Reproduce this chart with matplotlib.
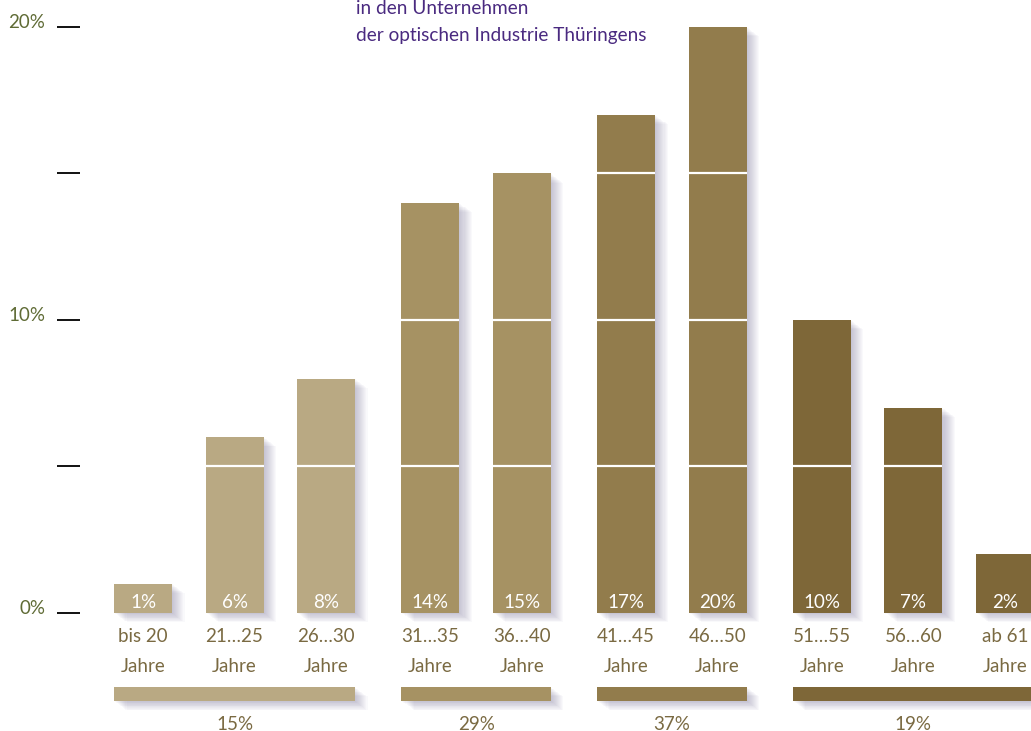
import matplotlib.pyplot as plt
import matplotlib.patheffects as pe
from matplotlib.transforms import ScaledTranslation

# data
age_labels = ["bis 20\nJahre", "21…25\nJahre", "26…30\nJahre",
              "31…35\nJahre", "36…40\nJahre",
              "41…45\nJahre", "46…50\nJahre",
              "51…55\nJahre", "56…60\nJahre", "ab 61\nJahre"]
shares = [1, 6, 8, 14, 15, 17, 20, 10, 7, 2]
group_of = [0, 0, 0, 1, 1, 2, 2, 3, 3, 3]
group_totals = [15, 29, 37, 19]
group_colors = ["#b9a983", "#a69263", "#927c4c", "#7e6738"]

title_lines = ["in den Unternehmen", "der optischen Industrie Thüringens"]

text_color = "#7a6a42"
tick_color = "#5f6b35"
title_color = "#4a2a80"
font = ["Lato", "DejaVu Sans"]

plt.rcParams['font.family'] = font

fig = plt.figure(figsize=(10.31, 7.31), dpi=100)
ax = fig.add_axes([0, 0, 1, 1])
ax.set_xlim(-1.563, 9.705)
ax.set_ylim(-4.03, 20.92)

gap = 0.14
width = 0.634
xs = [i + gap * g for i, g in enumerate(group_of)]


def shadow_effects():
    effs = []
    for d in range(1, 13):
        effs.append(pe.SimplePatchShadow(offset=(d * 0.75, -d * 0.55),
                                         shadow_rgbFace="#6e6890", alpha=0.035))
    effs.append(pe.Normal())
    return effs


bars = ax.bar(xs, shares, width=width,
              color=[group_colors[g] for g in group_of], zorder=3)
for b in bars:
    b.set_path_effects(shadow_effects())

# white division lines inside bars
for x, v in zip(xs, shares):
    for lvl in (5, 10, 15):
        if lvl < v:
            ax.plot([x - width / 2, x + width / 2], [lvl, lvl],
                    color="white", lw=1.6, zorder=4, solid_capstyle="butt")
    ax.text(x, 0.34, f"{v}%", ha="center", va="center", color="white",
            fontsize=13.5, zorder=5)

# category labels below bars
for x, lab in zip(xs, age_labels):
    l1, l2 = lab.split("\n")
    ax.text(x, -0.8, l1, ha="center", va="center", color=text_color, fontsize=13.5)
    ax.text(x, -1.82, l2, ha="center", va="center", color=text_color, fontsize=13.5)

# group summary bars
for g, tot in enumerate(group_totals):
    gx = [x for x, gg in zip(xs, group_of) if gg == g]
    left = min(gx) - width / 2
    right = max(gx) + width / 2
    gb = ax.barh(-2.77, right - left, left=left, height=0.48,
                 color=group_colors[g], zorder=3)
    gb[0].set_path_effects(shadow_effects())
    ax.text((left + right) / 2, -3.8, f"{tot}%", ha="center", va="center",
            color=text_color, fontsize=13.5)

# y axis with ticks only
for s in ax.spines.values():
    s.set_visible(False)
ax.spines['left'].set_position(('data', -0.69))
ax.set_yticks([0, 5, 10, 15, 20])
ax.set_yticklabels(["0%", "", "10%", "", "20%"])
ax.tick_params(axis='y', direction='out', length=16.5, width=1.4,
               color="#111111", labelcolor=tick_color, labelsize=13.5, pad=8.5)
off = ScaledTranslation(0, 4 / 72, fig.dpi_scale_trans)
for lab in ax.get_yticklabels():
    lab.set_transform(lab.get_transform() + off)
ax.set_xticks([])

# title
fig.text(356 / 1031, 1 - 8 / 731, title_lines[0], ha="left", va="center",
         color=title_color, fontsize=13.7)
fig.text(356 / 1031, 1 - 35 / 731, title_lines[1], ha="left", va="center",
         color=title_color, fontsize=13.7)

fig.savefig("out.png", dpi=100)
